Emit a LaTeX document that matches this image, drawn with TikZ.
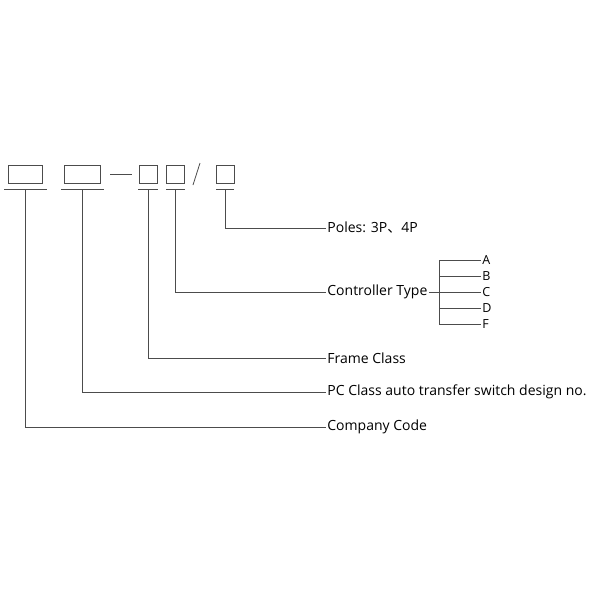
\documentclass[tikz,border=0pt]{standalone}
\usepackage{fontspec}
\setmainfont{Open Sans}
\newfontfamily\cjk{Noto Sans CJK SC}
\begin{document}
\begin{tikzpicture}[x=1pt,y=-1pt,line width=0.8pt,draw=black!70,
  lbl/.style={anchor=west,inner sep=1pt,font=\fontsize{14}{16}\selectfont},
  opt/.style={anchor=west,inner sep=1pt,font=\fontsize{12.5}{14}\selectfont}]
\useasboundingbox (0,0) rectangle (600,600);

%BOXES
\node[draw,minimum width=34pt,minimum height=18pt,inner sep=0](b1) at (25,174) {};
\node[draw,minimum width=36pt,minimum height=18pt,inner sep=0](b2) at (82,174) {};
\node[draw,minimum width=18pt,minimum height=18pt,inner sep=0](b3) at (148,174) {};
\node[draw,minimum width=18pt,minimum height=18pt,inner sep=0](b4) at (175,174) {};
\node[draw,minimum width=18pt,minimum height=18pt,inner sep=0](b5) at (225,174) {};
\draw (110,174) -- (132,174);
\draw (193,185) -- (200,163);

%UNDERLINES
\draw (4,189) -- (47,189);
\draw (61,189) -- (104,189);
\draw (138,189) -- (158,189);
\draw (166,189) -- (185,189);
\draw (216,189) -- (234,189);

%LABELS
\node[lbl](poles) at (326,228) {Poles: 3P{\cjk 、}4P};
\node[lbl](ctrl) at (326,292) {Controller Type};
\node[lbl](frame) at (326,358) {Frame Class};
\node[lbl](pc) at (326,392) {PC Class auto transfer switch design no.};
\node[lbl](comp) at (326,427) {Company Code};

\draw (225,189) |- (poles.west);
\draw (175,189) |- (ctrl.west);
\draw (148,189) |- (frame.west);
\draw (82,189) |- (pc.west);
\draw (25,189) |- (comp.west);

%OPTIONS
\coordinate (j) at (439,292);
\draw (ctrl.east) -- (j);
\draw (439,260) -- (439,324);
\foreach \t [count=\i from 0] in {A,B,C,D,F}
  \node[opt](o\i) at (481,260+16*\i) {\t};
\foreach \i in {0,...,4}
  \draw (439,260+16*\i) -- (o\i.west);

\end{tikzpicture}
\end{document}
